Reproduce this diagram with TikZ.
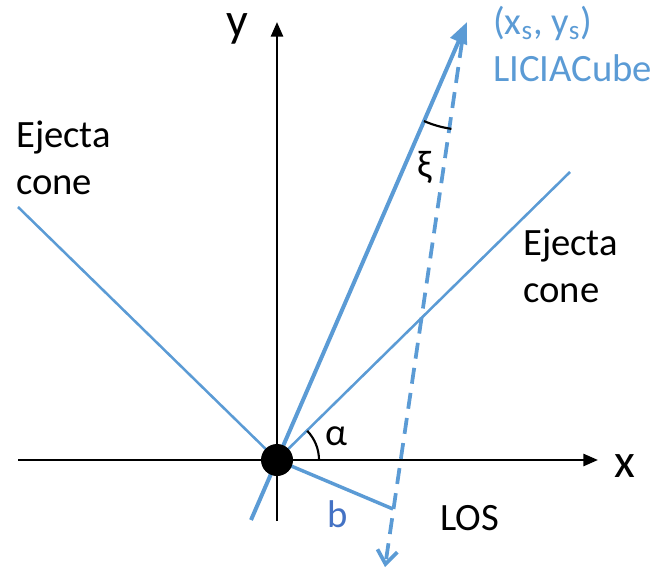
\documentclass[tikz,border=0pt]{standalone}
\usepackage{fontspec}
\setmainfont{Carlito}
\usepackage{xcolor}
\usepackage{tikz}
\usetikzlibrary{arrows.meta, positioning, calc}
\pgfdeclarelayer{lower}
\pgfsetlayers{lower,main}
\definecolor{cubeblue}{HTML}{5B9BD5}
\definecolor{labelblue}{HTML}{4472C4}
\tikzset{
	axis_arrow/.style={draw=black, line width=2pt, -{Triangle[length=11pt, width=9pt]}},
	cone_line/.style={draw=cubeblue, line width=1.9pt},
	cube_arrow/.style={draw=cubeblue, line width=3pt, -{Triangle[length=16pt, width=13pt]}},
	los_arrow/.style={draw=cubeblue, line width=2.8pt, dash pattern=on 12pt off 7pt, -{Straight Barb[length=10pt, width=15pt]}},
	b_line/.style={draw=cubeblue, line width=2.6pt},
	angle_arc/.style={draw=black, line width=1.6pt},
	origin_dot/.style={circle, fill=black, minimum size=24pt, inner sep=0pt},
	axis_label/.style={font=\fontsize{36}{40}\selectfont, inner sep=0pt},
	txt_block/.style={font=\fontsize{29}{35}\selectfont, inner sep=0pt, align=left},
	txt_label/.style={font=\fontsize{29}{35}\selectfont, inner sep=0pt}
}
\begin{document}
\begin{tikzpicture}[x=0.75pt, y=-0.75pt]
	\useasboundingbox (0,0) rectangle (670,573);
	\node[origin_dot] (origin) at (277,460) {};
	\coordinate (x_start) at (18,460);
	\coordinate (x_end) at (598,460);
	\coordinate (y_start) at (277,521);
	\coordinate (y_end) at (277,22);
	\coordinate (cone_left) at (18,207);
	\coordinate (cone_right) at (570,172);
	\coordinate (cube_tail) at (251,520);
	\coordinate (cube_tip) at (467,22);
	\coordinate (los_top) at (462,42);
	\coordinate (los_tip) at (385,567);
	\coordinate (b_foot) at (393,509);
	\begin{pgfonlayer}{lower}
		\draw[axis_arrow] (x_start) -- (x_end);
		\draw[axis_arrow] (y_start) -- (y_end);
		\draw[cone_line] (cone_left) -- (origin.center) -- (cone_right);
		\draw[cube_arrow] (cube_tail) -- (cube_tip);
		\draw[los_arrow] (los_top) -- (los_tip);
		\draw[b_line] (origin.center) -- (b_foot);
	\end{pgfonlayer}
	\draw[angle_arc] ([shift={(0:31.5pt)}]origin.center) arc[start angle=0, end angle=44, radius=31.5pt];
	\draw[angle_arc] ([shift={(246.5:81pt)}]cube_tip) arc[start angle=246.5, end angle=261.7, radius=81pt];
	\node[axis_label, anchor=base] (y_label) at (237,37) {y};
	\node[axis_label, anchor=base] (x_label) at (625,477) {x};
	\node[txt_block, anchor=south west] (cone_text_left) at (16,195) {Ejecta\\cone};
	\node[txt_block, anchor=south west] (cone_text_right) at (523,303) {Ejecta\\cone};
	\node[txt_block, anchor=south west, text=cubeblue] (cube_text) at (493,82) {(x\textsubscript{s}, y\textsubscript{s})\\LICIACube};
	\node[txt_label, anchor=base] (alpha_label) at (336,445) {α};
	\node[txt_label] (xi_label) at (425,167) {ξ};
	\node[txt_label, anchor=base, text=labelblue] (b_label) at (338,527) {b};
	\node[txt_label, anchor=base west] (los_label) at (440,530) {LOS};
\end{tikzpicture}
\end{document}
